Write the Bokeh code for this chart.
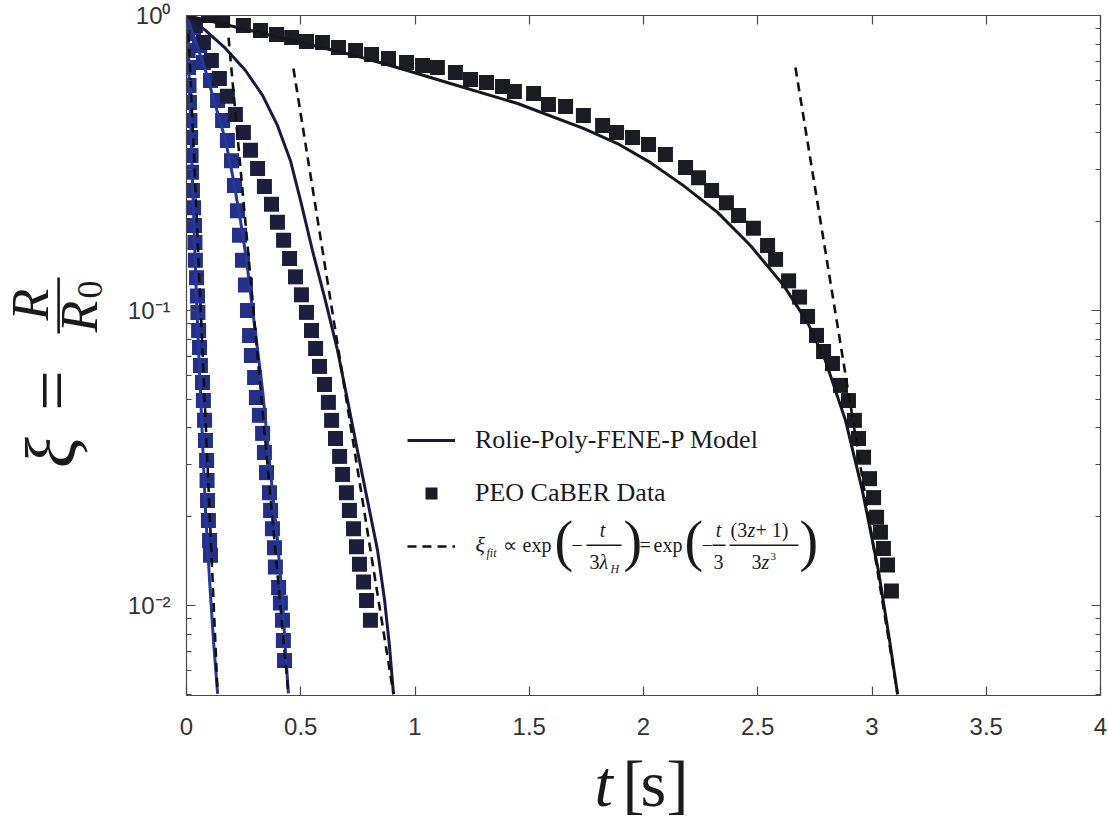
import math
from bokeh.plotting import figure
from bokeh.layouts import row, column
from bokeh.models import (FixedTicker, LinearAxis, LogAxis, Range1d, Label, BoxAnnotation,
                          Legend, LegendItem, CustomJSTickFormatter)
from bokeh.embed import file_html
from bokeh.resources import INLINE

# ---------------- data ----------------
# PEO CaBER data, four fluids (t in s, xi = R/R0)
t1 = [0.000, 0.004, 0.007, 0.009, 0.011, 0.013, 0.015, 0.018, 0.020, 0.022, 0.026, 0.031, 0.035,
      0.037, 0.039, 0.044, 0.048, 0.050, 0.053, 0.057, 0.061, 0.070, 0.074, 0.079, 0.083, 0.088,
      0.090, 0.092, 0.096, 0.101, 0.105]
y1 = [1.0, 0.869, 0.761, 0.666, 0.579, 0.507, 0.441, 0.386, 0.335, 0.294, 0.255, 0.223, 0.194,
      0.170, 0.148, 0.129, 0.112, 0.0985, 0.0855, 0.0749, 0.0651, 0.0570, 0.0495, 0.0424, 0.0362,
      0.0310, 0.0265, 0.0227, 0.0194, 0.0166, 0.0148]
t2 = [0.031, 0.057, 0.074, 0.105, 0.136, 0.158, 0.179, 0.197, 0.210, 0.223, 0.232, 0.245, 0.258,
      0.267, 0.276, 0.284, 0.298, 0.306, 0.319, 0.333, 0.341, 0.350, 0.363, 0.368, 0.376, 0.385,
      0.389, 0.403, 0.411, 0.420, 0.424, 0.429]
y2 = [0.911, 0.791, 0.693, 0.602, 0.515, 0.441, 0.377, 0.322, 0.265, 0.218, 0.180, 0.148, 0.122,
      0.100, 0.0823, 0.0704, 0.0593, 0.0507, 0.0441, 0.0383, 0.0330, 0.0282, 0.0241, 0.0210,
      0.0182, 0.0157, 0.0135, 0.0115, 0.0102, 0.0089, 0.0076, 0.0065]
t3 = [0.039, 0.074, 0.109, 0.144, 0.179, 0.214, 0.249, 0.280, 0.311, 0.341, 0.372, 0.398, 0.425,
      0.451, 0.477, 0.503, 0.525, 0.547, 0.565, 0.582, 0.604, 0.621, 0.635, 0.652, 0.670, 0.683,
      0.700, 0.713, 0.731, 0.744, 0.757, 0.775, 0.788, 0.805]
y3 = [0.925, 0.810, 0.704, 0.611, 0.532, 0.462, 0.401, 0.349, 0.303, 0.263, 0.229, 0.199, 0.173,
      0.150, 0.130, 0.113, 0.0985, 0.0855, 0.0743, 0.0646, 0.0561, 0.0488, 0.0424, 0.0368, 0.0320,
      0.0278, 0.0241, 0.0210, 0.0182, 0.0158, 0.0138, 0.0120, 0.0104, 0.0089]
t4 = [0.096, 0.158, 0.249, 0.324, 0.394, 0.460, 0.525, 0.595, 0.665, 0.740, 0.810, 0.884, 0.963,
      1.033, 1.098, 1.177, 1.243, 1.313, 1.383, 1.435, 1.519, 1.584, 1.659, 1.737, 1.821, 1.882,
      1.952, 2.022, 2.096, 2.184, 2.241, 2.298, 2.363, 2.416, 2.481, 2.543, 2.578, 2.635, 2.683,
      2.718, 2.757, 2.788, 2.827, 2.862, 2.897, 2.923, 2.941, 2.963, 2.989, 3.007, 3.020, 3.037,
      3.050, 3.068, 3.085]
y4 = [1.0, 0.962, 0.925, 0.890, 0.862, 0.842, 0.816, 0.810, 0.779, 0.761, 0.738, 0.715, 0.693,
      0.677, 0.666, 0.641, 0.607, 0.593, 0.574, 0.553, 0.544, 0.499, 0.491, 0.458, 0.424, 0.401,
      0.386, 0.365, 0.338, 0.305, 0.282, 0.255, 0.232, 0.210, 0.190, 0.166, 0.149, 0.126, 0.111,
      0.0954, 0.0823, 0.0726, 0.0661, 0.0557, 0.0495, 0.0424, 0.0368, 0.0318, 0.0269, 0.0232,
      0.0199, 0.0177, 0.0156, 0.0137, 0.0112]

# Rolie-Poly-FENE-P model curves
m1_t = [0.0, 0.009, 0.018, 0.026, 0.035, 0.044, 0.057, 0.070, 0.083, 0.101, 0.118, 0.136]
m1_y = [1.0, 0.704, 0.441, 0.276, 0.173, 0.108, 0.0626, 0.0362, 0.0210, 0.01215, 0.00761, 0.00503]
m2_t = [0.0, 0.039, 0.083, 0.127, 0.171, 0.206, 0.236, 0.263, 0.284, 0.306, 0.333, 0.354, 0.376,
        0.398, 0.420, 0.433, 0.446]
m2_y = [1.0, 0.823, 0.651, 0.495, 0.377, 0.276, 0.202, 0.148, 0.108, 0.0791, 0.0536, 0.0362,
        0.0245, 0.0166, 0.0104, 0.00704, 0.00503]
m3_t = [0.0, 0.083, 0.171, 0.258, 0.333, 0.398, 0.455, 0.499, 0.551, 0.608, 0.661, 0.705, 0.748,
        0.792, 0.836, 0.867, 0.888, 0.906]
m3_y = [1.0, 0.890, 0.773, 0.651, 0.536, 0.424, 0.322, 0.236, 0.160, 0.108, 0.0732, 0.0495,
        0.0335, 0.0227, 0.0154, 0.0104, 0.00732, 0.00500]
m4_t = [0.0, 0.280, 0.499, 0.718, 0.937, 1.155, 1.449, 1.737, 1.886, 2.031, 2.175, 2.324, 2.468,
        2.613, 2.718, 2.796, 2.884, 2.958, 3.028, 3.077, 3.112]
m4_y = [1.0, 0.889, 0.810, 0.738, 0.661, 0.588, 0.503, 0.414, 0.368, 0.317, 0.265, 0.215, 0.166,
        0.1216, 0.0911, 0.0677, 0.0424, 0.0245, 0.01314, 0.00761, 0.00500]

# exponential fits (straight lines on the semilog plot)
d1_t = [0.009, 0.136]; d1_y = [0.869, 0.00503]
d2_t = [0.184, 0.446]; d2_y = [0.842, 0.00503]
d3_t = [0.468, 0.906]; d3_y = [0.661, 0.00500]
d4_t = [2.665, 3.112]; d4_y = [0.666, 0.00500]

x_ticks = [0, 0.5, 1, 1.5, 2, 2.5, 3, 3.5, 4]
y_ticks = [0.01, 0.1, 1.0]
y_minor = [m * 10.0 ** e for e in (-3, -2, -1) for m in range(2, 10) if m * 10.0 ** e >= 0.005]

label_model = "Rolie-Poly-FENE-P Model"
label_data = "PEO CaBER Data"

# ---------------- layout geometry (page pixels) ----------------
W, H = 1108, 820
YW = 110            # strip holding the y-axis title
PH = 745            # height of the main row
FL, FT, FB = 186, 15, 695   # frame left / top / bottom

TXT = "#1a1a1a"
SERIF = "Liberation Serif"
MID = 0.3375        # (ascent - descent) / 2 of Liberation Serif, in em

# ---------------- main plot ----------------
p = figure(width=W - YW, height=PH, x_range=Range1d(0, 4), y_range=Range1d(0.00495, 1.0),
           y_axis_type="log", output_backend="svg", toolbar_location=None,
           min_border_left=FL - YW, min_border_right=8, min_border_top=FT,
           min_border_bottom=PH - FB)
p.grid.visible = False
p.outline_line_color = "#4a4a4a"
p.background_fill_color = "white"
p.border_fill_color = "white"

AX = "#4a4a4a"
TICK_FONT = "Liberation Sans"

def style_axis(ax, show_labels=True):
    ax.axis_line_color = AX
    ax.axis_line_width = 1.2
    ax.major_tick_line_color = AX
    ax.minor_tick_line_color = AX
    ax.major_tick_line_width = 1.2
    ax.minor_tick_line_width = 1.0
    ax.major_tick_in = 9
    ax.major_tick_out = 0
    ax.minor_tick_in = 5
    ax.minor_tick_out = 0
    ax.axis_label = None
    if show_labels:
        ax.major_label_text_font = TICK_FONT
        ax.major_label_text_font_size = "24px"
        ax.major_label_text_color = "#333333"
    else:
        ax.major_label_text_font_size = "0px"
        ax.major_label_standoff = 0
        ax.formatter = CustomJSTickFormatter(code="return '';")

xt = FixedTicker(ticks=x_ticks, minor_ticks=[])
yt = FixedTicker(ticks=y_ticks, minor_ticks=y_minor)
xfmt = CustomJSTickFormatter(code="return String(tick);")
yfmt = CustomJSTickFormatter(code="""
const e = Math.round(Math.log10(tick));
const m = {"0":"\u2070","1":"\u00b9","2":"\u00b2","3":"\u00b3","-":"\u207b"};
return "10" + String(e).split("").map(c => m[c]).join("");
""")

xa = p.xaxis[0]
xa.ticker = xt
xa.formatter = xfmt
style_axis(xa)
xa.major_label_standoff = 22

ya = p.yaxis[0]
ya.ticker = yt
ya.formatter = yfmt
style_axis(ya)
ya.major_label_standoff = 16

top_ax = LinearAxis(ticker=FixedTicker(ticks=x_ticks, minor_ticks=[]))
style_axis(top_ax, show_labels=False)
p.add_layout(top_ax, "above")
right_ax = LogAxis(ticker=FixedTicker(ticks=y_ticks, minor_ticks=y_minor))
style_axis(right_ax, show_labels=False)
p.add_layout(right_ax, "right")

# ---------------- glyphs ----------------
BLUE_M = "#232f88"
NAVY_M = "#1d1e3c"
BLACK_M = "#1b1b22"
BLUE_L = "#27379c"
NAVY_L = "#191a40"
BLACK_L = "#16161e"
DASH = "#111111"
SQ = 15

p.scatter(t1, y1, marker="square", size=SQ, fill_color=BLUE_M, line_color=None)
p.scatter(t2, y2, marker="square", size=SQ, fill_color=BLUE_M, line_color=None)
p.scatter(t3, y3, marker="square", size=SQ, fill_color=NAVY_M, line_color=None)
s4 = p.scatter(t4, y4, marker="square", size=SQ, fill_color=BLACK_M, line_color=None)

p.line(m1_t, m1_y, line_color=BLUE_L, line_width=3)
p.line(m2_t, m2_y, line_color=BLUE_L, line_width=3)
l3 = p.line(m3_t, m3_y, line_color=NAVY_L, line_width=3)
p.line(m4_t, m4_y, line_color=BLACK_L, line_width=3)

dd = []
for dt, dy in ((d1_t, d1_y), (d2_t, d2_y), (d3_t, d3_y), (d4_t, d4_y)):
    dd.append(p.line(dt, dy, line_color=DASH, line_width=2.6, line_dash="9 6"))

# ---------------- legend ----------------
legend = Legend(items=[LegendItem(label=label_model, renderers=[l3]),
                       LegendItem(label=label_data, renderers=[s4]),
                       LegendItem(label=" ", renderers=[dd[2]])],
                location=(407 - FL, FB - 561), orientation="vertical",
                label_text_font=SERIF, label_text_font_size="26px",
                label_text_color=TXT, glyph_width=48, glyph_height=30, label_height=30,
                label_standoff=20, spacing=23, padding=0, margin=0,
                border_line_color=None, background_fill_alpha=0.0)
p.add_layout(legend)

# text inside the main frame: (cx, base) = left/centre x and baseline y in page pixels
def put(text, cx, base, size, style="normal", align="left"):
    cy = base - MID * size
    p.add_layout(Label(x=cx - FL, y=FB - cy, x_units="screen", y_units="screen", text=text,
                       text_font=SERIF, text_font_size=f"{size}px", text_font_style=style,
                       text_align=align, text_baseline="middle", text_color=TXT))

def bar(x0, x1, y0, y1):
    p.add_layout(BoxAnnotation(left=x0 - FL, right=x1 - FL, top=FB - y0, bottom=FB - y1,
                               left_units="screen", right_units="screen",
                               top_units="screen", bottom_units="screen",
                               fill_color=TXT, fill_alpha=1.0, line_color=None))

# formula in the third legend row
PAREN = 56
PB = 559
put("\u03be", 475, 551, 22, "italic")
put("fit", 486, 557, 12, "italic")
put("\u221d", 502, 551, 20)
put("exp", 522, 551, 20)
put("(", 554, PB, PAREN)
put("\u2212", 571, 551, 20)
put("t", 602, 536, 20, "italic", align="center")
bar(586, 621, 544, 545.5)
put("3", 589, 568, 20)
put("\u03bb", 599, 568, 20, "italic")
put("H", 610, 573, 12, "italic")
put(")", 623, PB, PAREN)
put("=", 639, 551, 20)
put("exp", 653, 551, 20)
put("(", 684, PB, PAREN)
put("\u2212", 701, 551, 20)
put("t", 718, 536, 20, "italic", align="center")
bar(712, 725, 544, 545.5)
put("3", 718, 568, 20, align="center")
put("(3", 730, 536, 20)
put("z", 747, 536, 20, "italic")
put(" + 1)", 755, 536, 20)
bar(729, 798, 544, 545.5)
put("3", 751, 568, 20)
put("z", 761, 568, 20, "italic")
put("3", 770, 560, 11)
put(")", 799, PB, PAREN)

# ---------------- title strips (data units = page pixels) ----------------
def strip(w, h, x0, x1, ytop, ybot, btop, bbot):
    f = figure(width=w, height=h, x_range=Range1d(x0, x1), y_range=Range1d(ybot, ytop),
               output_backend="svg", toolbar_location=None,
               x_axis_location=None, y_axis_location=None,
               min_border_left=0, min_border_right=0,
               min_border_top=btop, min_border_bottom=bbot)
    f.grid.visible = False
    f.outline_line_color = None
    f.background_fill_color = "white"
    f.border_fill_color = "white"
    return f

def sput(f, text, x, y, size, style="normal", align="left", angle=0.0):
    f.add_layout(Label(x=x, y=y, text=text, text_font=SERIF, text_font_size=f"{size}px",
                       text_font_style=style, text_align=align, text_baseline="middle",
                       angle=angle, text_color=TXT))

# y-axis title  xi = R / R0, reading bottom to top; its frame spans page y FT..FB
yf = strip(YW, PH, 0, YW, FT, FB, FT, PH - FB)
ANG = math.pi / 2
def yput(text, base_x, cy, size, style="normal"):
    sput(yf, text, base_x - MID * size, cy, size, style, align="center", angle=ANG)

yput("\u03be", 76, 452, 72, "italic")
yput("=", 76, 390, 72)
yf.add_layout(BoxAnnotation(left=56.8, right=59.4, top=277, bottom=333,
                            fill_color=TXT, fill_alpha=1.0, line_color=None))
yput("R", 48, 304, 52, "italic")
yput("R", 97, 316, 52, "italic")
yput("0", 102, 289, 36)

# x-axis title  t[s]
xf = strip(W, H - PH, 0, W, PH, H, 0, 0)
def xput(text, x, base, size, style="normal"):
    sput(xf, text, x, base - MID * size, size, style)

XS = 66
xput("t", 594, 805, XS, "italic")
xput("[", 622, 805, XS)
xput("s", 640, 805, XS)
xput("]", 666, 805, XS)

layout = column(row(yf, p, spacing=0), xf, spacing=0)

with open("out.html", "w", encoding="utf-8") as fh:
    fh.write(file_html(layout, INLINE))
